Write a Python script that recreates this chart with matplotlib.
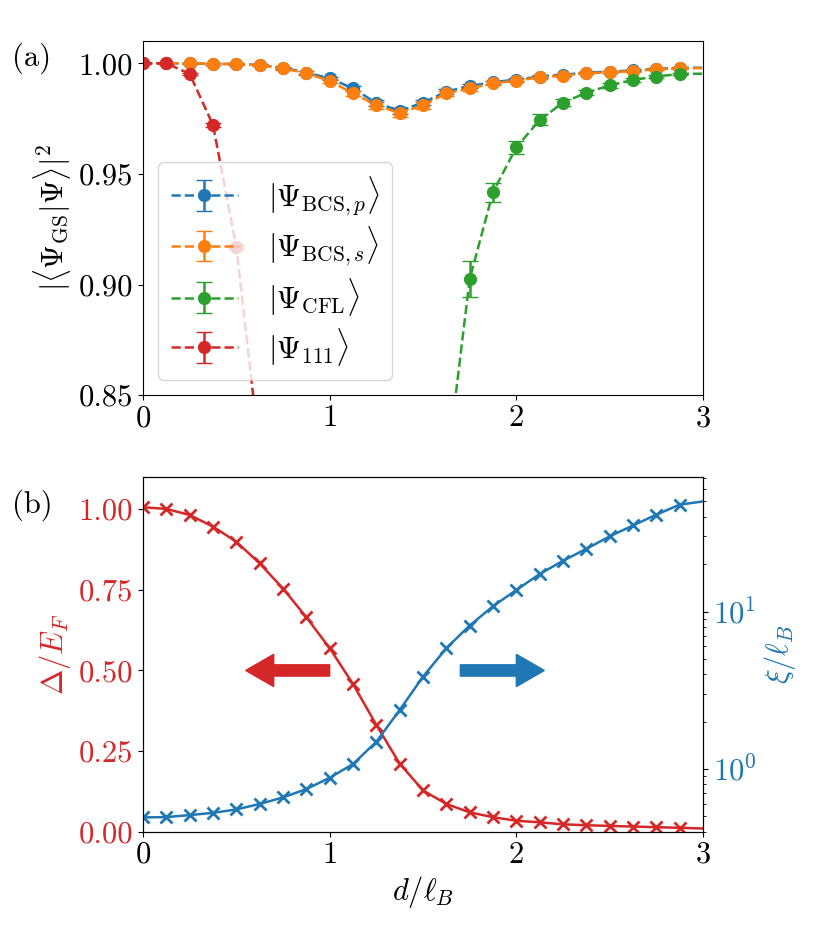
import numpy as np
import matplotlib
matplotlib.use("Agg")
import matplotlib.pyplot as plt

plt.rcParams['font.family'] = 'serif'
plt.rcParams['font.serif'] = ['cmr10']
plt.rcParams['mathtext.fontset'] = 'cm'
plt.rcParams['axes.formatter.use_mathtext'] = True
plt.rcParams['axes.unicode_minus'] = False
plt.rcParams['font.size'] = 22

# --- panel (a): overlaps ---
d_a = [0.0, 0.125, 0.25, 0.375, 0.5, 0.625, 0.75, 0.875, 1.0, 1.125, 1.25, 1.375,
       1.5, 1.625, 1.75, 1.875, 2.0, 2.125, 2.25, 2.375, 2.5, 2.625, 2.75, 2.875]
bcs_p = [1.000, 1.000, 1.000, 0.9997, 0.9997, 0.9992, 0.9980, 0.9958, 0.9932, 0.9887,
         0.9820, 0.9786, 0.9822, 0.9872, 0.9897, 0.9915, 0.9926, 0.9940, 0.9948, 0.9958,
         0.9962, 0.9968, 0.9975, 0.9979]
bcs_p_err = [0.0002, 0.0002, 0.0002, 0.0003, 0.0003, 0.0004, 0.0005, 0.0006, 0.0008, 0.0010,
             0.0012, 0.0014, 0.0012, 0.0010, 0.0008, 0.0007, 0.0006, 0.0005, 0.0005, 0.0004,
             0.0004, 0.0003, 0.0003, 0.0003]
bcs_s = [1.000, 1.000, 1.000, 0.9997, 0.9997, 0.9991, 0.9977, 0.9955, 0.9920, 0.9864,
         0.9811, 0.9774, 0.9811, 0.9864, 0.9887, 0.9910, 0.9921, 0.9937, 0.9944, 0.9955,
         0.9959, 0.9965, 0.9973, 0.9977]
bcs_s_err = [0.0002, 0.0002, 0.0002, 0.0003, 0.0003, 0.0004, 0.0006, 0.0008, 0.0010, 0.0013,
             0.0016, 0.0018, 0.0016, 0.0013, 0.0010, 0.0008, 0.0007, 0.0006, 0.0005, 0.0005,
             0.0004, 0.0004, 0.0003, 0.0003]
d_cfl = [1.5, 1.625, 1.75, 1.875, 2.0, 2.125, 2.25, 2.375, 2.5, 2.625, 2.75, 2.875]
cfl = [0.66, 0.815, 0.9025, 0.9418, 0.962, 0.9744, 0.9822, 0.9867, 0.9900, 0.9925, 0.9940, 0.9952]
cfl_err = [0.01, 0.01, 0.008, 0.0043, 0.003, 0.0025, 0.0015, 0.0012, 0.0010, 0.0008, 0.0007, 0.0006]
d_111 = [0.0, 0.125, 0.25, 0.375, 0.5, 0.625, 0.75]
psi111 = [1.000, 1.000, 0.9952, 0.9721, 0.917, 0.824, 0.70]
psi111_err = [0.0002, 0.0003, 0.0006, 0.0010, 0.0010, 0.002, 0.003]
# end points at d = 3 (line only)
end_bcs_p, end_bcs_s, end_cfl = 0.9980, 0.9978, 0.9953

# --- panel (b): gap and coherence length ---
d_b = [0.0, 0.125, 0.25, 0.375, 0.5, 0.625, 0.75, 0.875, 1.0, 1.125, 1.25, 1.375,
       1.5, 1.625, 1.75, 1.875, 2.0, 2.125, 2.25, 2.375, 2.5, 2.625, 2.75, 2.875, 3.0]
gap = [1.006, 1.001, 0.982, 0.946, 0.899, 0.832, 0.754, 0.665, 0.569, 0.458, 0.331, 0.211,
       0.128, 0.086, 0.060, 0.045, 0.034, 0.029, 0.023, 0.020, 0.018, 0.016, 0.014, 0.012, 0.010]
xi = [0.493, 0.495, 0.510, 0.527, 0.554, 0.600, 0.660, 0.746, 0.880, 1.076, 1.49, 2.37,
      3.86, 5.85, 8.15, 10.8, 13.7, 17.3, 21.0, 25.0, 30.0, 35.2, 41.2, 47.7, 50.0]

c_blue, c_orange, c_green, c_red = 'tab:blue', 'tab:orange', 'tab:green', 'tab:red'

fig = plt.figure(figsize=(8.3, 9.49), dpi=100)
ax1 = fig.add_axes([0.1723, 0.5835, 0.6747, 0.3736])
ax2 = fig.add_axes([0.1723, 0.1236, 0.6747, 0.3738])

eb = dict(fmt='o--', markersize=8.5, capsize=6, lw=1.8)
ax1.errorbar(d_a, bcs_p, yerr=bcs_p_err, color=c_blue, label=r'$|\Psi_{\mathrm{BCS},p}\rangle$', **eb)
ax1.plot([d_a[-1], 3.0], [bcs_p[-1], end_bcs_p], '--', color=c_blue, lw=1.8)
ax1.errorbar(d_a, bcs_s, yerr=bcs_s_err, color=c_orange, label=r'$|\Psi_{\mathrm{BCS},s}\rangle$', **eb)
ax1.plot([d_a[-1], 3.0], [bcs_s[-1], end_bcs_s], '--', color=c_orange, lw=1.8)
ax1.errorbar(d_cfl, cfl, yerr=cfl_err, color=c_green, label=r'$|\Psi_{\mathrm{CFL}}\rangle$', **eb)
ax1.plot([d_cfl[-1], 3.0], [cfl[-1], end_cfl], '--', color=c_green, lw=1.8)
ax1.errorbar(d_111, psi111, yerr=psi111_err, color=c_red, label=r'$|\Psi_{111}\rangle$', **eb)

ax1.set_xlim(0, 3)
ax1.set_ylim(0.85, 1.0102)
ax1.set_xticks([0, 1, 2, 3])
ax1.set_yticks([0.85, 0.90, 0.95, 1.00])
ax1.set_yticklabels(['0.85', '0.90', '0.95', '1.00'])
ax1.set_ylabel(r'$|\langle\Psi_{\mathrm{GS}}|\Psi\rangle|^2$')
ax1.legend(loc='lower left', borderaxespad=0.5, handlelength=2.2,
           handletextpad=1.0, labelspacing=0.25)

# panel (b)
ax2.plot(d_b, gap, '-', color=c_red, lw=1.8)
ax2.plot(d_b[:-1], gap[:-1], 'x', color=c_red, markersize=8, mew=2)
ax2.set_xlim(0, 3)
ax2.set_ylim(0, 1.1)
ax2.set_xticks([0, 1, 2, 3])
ax2.set_yticks([0, 0.25, 0.5, 0.75, 1.0])
ax2.set_yticklabels(['0.00', '0.25', '0.50', '0.75', '1.00'])
ax2.set_ylabel(r'$\Delta/E_F$', color=c_red)
ax2.tick_params(axis='y', labelcolor=c_red)
ax2.set_xlabel(r'$d/\ell_B$')
ax2.arrow(1.0, 0.5, -0.3, 0, width=0.035, head_width=0.1, head_length=0.15,
          color=c_red, zorder=5)
ax2.arrow(1.7, 0.5, 0.3, 0, width=0.035, head_width=0.1, head_length=0.15,
          color=c_blue, zorder=5)

ax3 = ax2.twinx()
ax3.plot(d_b, xi, '-', color=c_blue, lw=1.8)
ax3.plot(d_b[:-1], xi[:-1], 'x', color=c_blue, markersize=8, mew=2)
ax3.set_yscale('log')
ax3.set_ylim(0.4, 71.5)
ax3.set_ylabel(r'$\xi/\ell_B$', color=c_blue)
ax3.tick_params(axis='y', labelcolor=c_blue)

fig.text(0.015, 0.939, '(a)', va='center', ha='left')
fig.text(0.015, 0.468, '(b)', va='center', ha='left')

fig.savefig('out.png', dpi=100)
